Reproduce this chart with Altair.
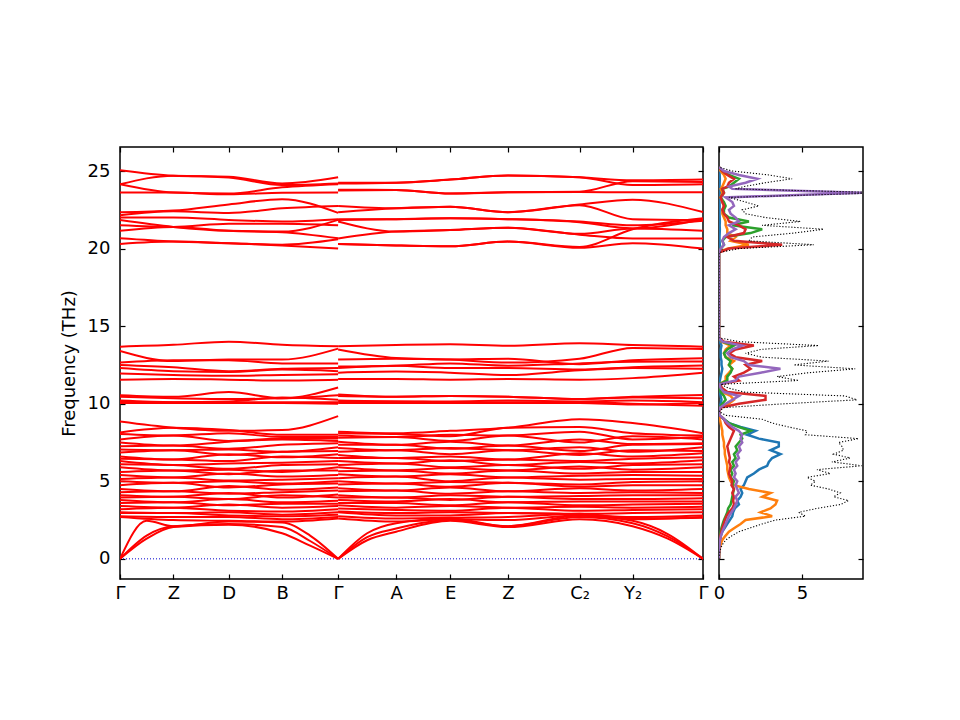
import altair as alt
import pandas as pd

# ---------------- k-path (cumulative distance) ----------------
K_TICKS = [0.0, 53.3, 108.7, 162.0, 218.0, 276.0, 330.0, 387.7, 459.3, 512.3, 582.7]
K_LABELS = ["Γ", "Z", "D", "B", "Γ", "A", "E", "Z", "C₂", "Y₂", "Γ"]
K_SEG1 = [0.0, 53.3, 108.7, 162.0, 218.0]                        # Γ Z D B Γ
K_SEG2 = [218.0, 276.0, 330.0, 387.7, 459.3, 512.3, 582.7]       # Γ A E Z C2 Y2 Γ
K_AC1 = [0.0, 26.6, 53.3, 108.7, 162.0, 190.0, 218.0]
K_AC2 = [218.0, 247.0, 276.0, 330.0, 387.7, 459.3, 512.3, 547.5, 582.7]

# ---------------- band frequencies (THz) ----------------
HIGH_S1 = [
    [25.05, 24.7, 24.63, 24.2, 24.6],
    [24.15, 24.7, 24.58, 24.1, 24.2],
    [24.15, 23.62, 23.55, 23.95, 24.15],
    [23.62, 23.62, 23.5, 23.6, 23.62],
    [22.34, 22.45, 22.85, 23.18, 22.3],
    [22.15, 22.4, 22.3, 22.6, 22.75],
    [22.0, 22.0, 21.85, 21.75, 21.9],
    [21.84, 21.4, 21.15, 21.1, 21.85],
    [21.5, 21.4, 21.6, 21.6, 21.5],
    [21.15, 21.4, 21.15, 21.05, 20.66],
    [20.66, 20.45, 20.35, 20.25, 20.6],
    [20.3, 20.45, 20.35, 20.2, 20.0],
]
HIGH_S2 = [
    [24.25, 24.25, 24.45, 24.72, 24.6, 24.4, 24.45],
    [24.2, 24.25, 24.45, 24.72, 24.6, 24.1, 24.15],
    [23.8, 23.78, 23.55, 23.63, 23.67, 24.35, 24.3],
    [23.75, 23.78, 23.55, 23.63, 23.65, 23.63, 23.63],
    [22.75, 22.6, 22.7, 22.35, 22.85, 23.15, 22.35],
    [22.35, 22.6, 22.7, 22.35, 22.8, 21.9, 21.85],
    [21.9, 21.9, 21.95, 21.9, 21.75, 21.5, 21.8],
    [21.85, 21.9, 21.95, 21.9, 21.7, 21.3, 21.9],
    [21.75, 21.1, 21.2, 21.35, 20.95, 21.3, 21.15],
    [20.65, 21.1, 21.2, 21.35, 20.9, 20.65, 20.65],
    [20.3, 20.2, 20.15, 20.45, 20.1, 21.25, 21.95],
    [20.3, 20.2, 20.15, 20.45, 20.05, 20.35, 20.0],
]
MID_S1 = [
    [13.68, 13.8, 14.0, 13.8, 13.7],
    [13.4, 12.75, 12.85, 12.85, 13.55],
    [12.65, 12.8, 12.8, 12.6, 12.6],
    [12.5, 12.35, 12.1, 12.25, 12.3],
    [12.3, 12.1, 12.05, 12.2, 12.1],
    [11.95, 11.85, 11.8, 11.85, 11.9],
    [11.55, 11.6, 11.55, 11.5, 11.55],
    [10.55, 10.45, 10.75, 10.35, 11.05],
    [10.45, 10.35, 10.3, 10.35, 10.55],
    [10.2, 10.1, 10.15, 10.4, 10.25],
    [10.15, 10.1, 10.1, 10.1, 10.1],
    [10.05, 10.05, 10.05, 10.05, 10.0],
]
MID_S2 = [
    [13.7, 13.79, 13.84, 13.74, 13.9, 13.79, 13.68],
    [13.5, 12.95, 12.85, 12.65, 12.9, 13.6, 13.53],
    [12.85, 12.9, 12.85, 12.9, 12.55, 12.8, 12.93],
    [12.4, 12.45, 12.6, 12.45, 12.6, 12.7, 12.72],
    [12.3, 12.45, 12.3, 12.3, 12.2, 12.35, 12.46],
    [12.0, 12.07, 12.0, 11.85, 12.15, 12.3, 12.25],
    [11.6, 11.6, 11.55, 11.6, 11.55, 11.65, 12.0],
    [10.6, 10.45, 10.5, 10.45, 10.3, 10.45, 10.57],
    [10.5, 10.45, 10.5, 10.45, 10.3, 10.4, 10.36],
    [10.2, 10.15, 10.15, 10.2, 10.15, 10.2, 10.1],
    [10.15, 10.15, 10.1, 10.1, 10.1, 10.0, 9.87],
    [10.05, 10.05, 10.05, 10.05, 10.05, 9.95, 10.05],
]
LOW_S1 = [
    [8.85, 8.45, 8.25, 8.3, 9.2],
    [8.15, 8.45, 8.3, 8.0, 8.0],
    [8.05, 7.95, 8.1, 7.85, 7.85],
    [7.7, 7.95, 7.6, 7.75, 7.75],
    [7.5, 7.3, 7.55, 7.7, 7.6],
    [7.25, 7.3, 7.1, 7.35, 7.45],
    [7.05, 7.0, 7.05, 6.9, 7.2],
    [6.85, 7.0, 6.7, 6.9, 6.95],
    [6.6, 6.4, 6.75, 6.55, 6.75],
    [6.45, 6.4, 6.3, 6.6, 6.5],
    [6.3, 6.05, 6.15, 6.2, 6.3],
    [6.1, 6.05, 5.8, 6.05, 6.1],
    [5.9, 5.7, 5.75, 5.6, 5.9],
    [5.6, 5.7, 5.45, 5.7, 5.7],
    [5.4, 5.25, 5.5, 5.3, 5.4],
    [5.15, 5.25, 5.05, 5.1, 5.2],
    [5.0, 4.9, 5.0, 4.85, 5.0],
    [4.75, 4.9, 4.6, 4.8, 4.85],
    [4.5, 4.35, 4.7, 4.45, 4.6],
    [4.3, 4.35, 4.2, 4.3, 4.4],
    [4.1, 4.0, 4.25, 3.95, 4.15],
    [3.95, 4.0, 3.85, 4.1, 3.95],
    [3.8, 3.65, 3.85, 3.65, 3.75],
    [3.6, 3.65, 3.45, 3.55, 3.55],
    [3.4, 3.3, 3.5, 3.3, 3.4],
    [3.2, 3.3, 3.1, 3.05, 3.2],
    [3.0, 2.95, 3.0, 2.85, 3.0],
    [2.95, 2.95, 2.8, 2.75, 2.85],
    [2.75, 2.7, 2.7, 2.55, 2.7],
    [2.7, 2.5, 2.45, 2.4, 2.6],
]
LOW_S2 = [
    [8.2, 8.1, 8.25, 8.45, 9.0, 8.75, 8.1],
    [8.1, 8.05, 7.9, 8.45, 8.5, 8.1, 7.95],
    [7.95, 7.85, 8.0, 7.95, 8.2, 7.7, 7.85],
    [7.8, 7.85, 7.6, 7.95, 7.5, 7.9, 7.7],
    [7.55, 7.35, 7.55, 7.3, 7.7, 7.4, 7.45],
    [7.35, 7.35, 7.1, 7.3, 6.95, 7.35, 7.4],
    [7.15, 7.0, 7.15, 7.0, 7.2, 6.9, 7.2],
    [6.9, 7.0, 6.75, 7.0, 6.7, 7.0, 6.95],
    [6.7, 6.5, 6.6, 6.4, 6.8, 6.6, 6.8],
    [6.5, 6.5, 6.3, 6.4, 6.3, 6.45, 6.55],
    [6.3, 6.15, 6.35, 6.05, 6.25, 6.15, 6.35],
    [6.05, 6.15, 5.9, 6.05, 5.8, 6.05, 6.1],
    [5.9, 5.7, 5.85, 5.7, 5.95, 5.75, 5.9],
    [5.65, 5.7, 5.5, 5.7, 5.5, 5.6, 5.6],
    [5.45, 5.3, 5.45, 5.25, 5.35, 5.4, 5.35],
    [5.2, 5.3, 5.0, 5.25, 5.1, 5.15, 5.15],
    [5.0, 4.85, 4.95, 4.9, 4.8, 4.95, 5.0],
    [4.8, 4.85, 4.65, 4.9, 4.65, 4.75, 4.75],
    [4.55, 4.4, 4.6, 4.35, 4.55, 4.4, 4.5],
    [4.35, 4.4, 4.2, 4.35, 4.25, 4.3, 4.25],
    [4.1, 3.95, 4.1, 4.0, 4.05, 4.1, 4.1],
    [3.95, 3.95, 3.8, 4.0, 3.85, 3.85, 3.9],
    [3.8, 3.7, 3.85, 3.65, 3.7, 3.7, 3.7],
    [3.6, 3.6, 3.45, 3.65, 3.45, 3.5, 3.55],
    [3.45, 3.3, 3.4, 3.3, 3.35, 3.3, 3.35],
    [3.25, 3.15, 3.1, 3.3, 3.1, 3.15, 3.2],
    [3.05, 2.95, 3.0, 2.95, 2.9, 2.95, 3.0],
    [3.0, 2.8, 2.8, 2.95, 2.85, 2.7, 2.8],
    [2.75, 2.6, 2.65, 2.7, 2.9, 2.6, 2.65],
    [2.6, 2.4, 2.55, 2.5, 2.8, 2.55, 2.7],
]
AC_S1 = [
    [0.0, 1.3, 2.05, 2.2, 1.65, 0.85, 0.0],
    [0.0, 1.5, 2.1, 2.25, 2.05, 1.15, 0.0],
    [0.0, 2.45, 2.1, 2.4, 2.35, 1.5, 0.0],
]
AC_S2 = [
    [0.0, 1.2, 1.75, 2.45, 2.05, 2.55, 2.1, 1.3, 0.0],
    [0.0, 1.4, 1.95, 2.5, 2.1, 2.7, 2.3, 1.45, 0.0],
    [0.0, 1.65, 2.3, 2.6, 2.1, 2.8, 2.45, 1.6, 0.0],
]

# ---------------- DOS (states/THz) ----------------
DOS_FREQ = [0.0, 0.25, 0.5, 0.75, 1.0, 1.25, 1.5, 1.75, 2.0, 2.25, 2.5, 2.75, 3.0, 3.25, 3.5, 3.75,
            4.0, 4.25, 4.5, 4.75, 5.0, 5.25, 5.5, 5.75, 6.0, 6.25, 6.5, 6.75, 7.0, 7.25, 7.5, 7.75,
            8.0, 8.25, 8.5, 8.75, 9.0, 9.25, 9.5,
            9.75, 10.0, 10.25, 10.5, 10.75, 11.0, 11.25, 11.5, 11.75, 12.0, 12.25, 12.5, 12.75,
            13.0, 13.25, 13.5, 13.75, 14.0, 14.25,
            19.75, 20.0, 20.25, 20.5, 20.75, 21.0, 21.25, 21.5, 21.75, 22.0, 22.25, 22.5, 22.75,
            23.0, 23.3, 23.6, 23.85, 24.0, 24.25, 24.5, 24.75, 25.0, 25.25]
DOS_TOTAL = [0, 0.02, 0.06, 0.13, 0.25, 0.45, 0.8, 1.2, 1.9, 2.6, 3.4, 5.2, 4.8, 5.9, 7.3, 7.8,
             6.9, 7.3, 6.6, 5.5, 5.8, 5.3, 6.7, 5.9, 8.6, 6.8, 7.9, 6.9, 7.5, 7.4, 7.2, 8.4,
             5.2, 5.3, 4.2, 3.2, 2.6, 0.4, 0,
             0.3, 4.0, 8.3, 7.6, 1.5, 0.6, 0.1, 4.8, 3.5, 5.4, 8.2, 4.5, 6.6, 2.6, 1.6, 2.5, 6.0, 1.2, 0,
             0, 1.2, 5.7, 1.8, 2.0, 4.5, 6.3, 2.6, 4.9, 2.8, 1.6, 1.4, 2.4, 1.6, 0.6, 10.0, 1.0,
             1.5, 2.8, 4.4, 3.0, 0.8, 0]
DOS_P1 = [0, 0, 0.01, 0.02, 0.04, 0.07, 0.12, 0.2, 0.35, 0.5, 0.65, 0.8, 0.85, 0.95, 1.2, 1.1,
          1.3, 1.4, 1.3, 1.5, 1.6, 1.7, 2.1, 2.4, 2.9, 3.0, 3.2, 3.7, 3.1, 3.6, 3.6, 2.4,
          1.7, 2.2, 1.3, 0.6, 0.3, 0.05, 0,
          0, 0.1, 0.15, 0.1, 0.05, 0.02, 0, 0.05, 0.1, 0.15, 0.2, 0.15, 0.15, 0.1, 0.1, 0.1, 0.15, 0.05, 0,
          0, 0.02, 0.05, 0.03, 0.03, 0.04, 0.05, 0.04, 0.05, 0.04, 0.03, 0.03, 0.04, 0.03, 0.02, 0.05,
          0.03, 0.03, 0.04, 0.05, 0.04, 0.02, 0]
DOS_P2 = [0, 0.01, 0.03, 0.06, 0.12, 0.22, 0.4, 0.6, 0.95, 1.3, 1.6, 3.2, 2.5, 3.1, 3.4, 3.5,
          2.6, 3.1, 1.8, 0.9, 0.7, 0.6, 0.55, 0.5, 0.5, 0.45, 0.4, 0.35, 0.35, 0.3, 0.3, 0.25,
          0.2, 0.2, 0.15, 0.1, 0.05, 0.02, 0,
          0.05, 0.6, 0.9, 0.7, 0.2, 0.1, 0.02, 0.4, 0.4, 0.6, 0.8, 0.6, 0.9, 0.4, 0.3, 0.4, 0.7, 0.15, 0,
          0, 0.5, 1.8, 0.7, 1.0, 0.5, 0.5, 0.4, 0.4, 0.3, 0.2, 0.2, 0.3, 0.2, 0.1, 0.2, 0.1,
          0.2, 0.3, 0.4, 0.3, 0.1, 0]
DOS_P3 = [0, 0, 0.01, 0.01, 0.02, 0.04, 0.06, 0.1, 0.15, 0.22, 0.3, 0.4, 0.5, 0.55, 0.7, 0.75,
          0.8, 0.85, 0.9, 0.8, 0.9, 0.7, 0.8, 0.7, 0.9, 0.8, 1.0, 0.9, 1.1, 1.0, 1.2, 1.4,
          1.3, 1.9, 1.2, 0.6, 0.3, 0.05, 0,
          0.02, 0.2, 0.4, 0.3, 0.1, 0.05, 0.02, 0.5, 0.5, 0.7, 0.8, 0.6, 0.7, 0.4, 0.3, 0.5, 0.9, 0.2, 0,
          0, 0.1, 0.3, 0.2, 0.4, 1.9, 2.6, 0.8, 1.8, 0.6, 0.3, 0.3, 0.4, 0.3, 0.1, 0.3, 0.2,
          0.6, 0.9, 1.2, 0.6, 0.2, 0]
DOS_P4 = [0, 0, 0.01, 0.02, 0.03, 0.05, 0.09, 0.14, 0.2, 0.28, 0.35, 0.45, 0.6, 0.8, 0.9, 0.85,
          0.9, 0.8, 0.9, 0.75, 0.8, 0.7, 0.6, 0.65, 0.7, 0.6, 0.65, 0.6, 0.55, 0.5, 0.6, 0.7,
          0.8, 0.9, 0.6, 0.4, 0.3, 0.05, 0,
          0.1, 1.2, 2.8, 2.8, 0.5, 0.2, 0.05, 1.2, 0.9, 1.5, 1.9, 1.6, 2.6, 1.0, 0.6, 1.0, 2.1, 0.3, 0,
          0, 0.6, 3.8, 0.9, 0.5, 1.5, 1.6, 1.2, 0.6, 0.5, 0.3, 0.2, 0.3, 0.2, 0.1, 0.3, 0.2,
          0.5, 0.6, 0.9, 0.5, 0.2, 0]
DOS_P5 = [0, 0, 0.01, 0.02, 0.04, 0.07, 0.12, 0.2, 0.3, 0.4, 0.5, 0.6, 0.75, 0.9, 1.0, 1.1,
          1.0, 1.2, 1.1, 1.0, 1.1, 0.9, 1.0, 0.9, 1.1, 1.0, 1.2, 1.1, 1.3, 1.2, 1.4, 1.3,
          1.4, 1.2, 0.8, 0.5, 0.3, 0.05, 0,
          0.05, 0.4, 0.8, 1.2, 0.3, 0.1, 0.03, 1.0, 1.2, 2.5, 3.7, 1.8, 1.5, 0.7, 0.5, 0.8, 1.4, 0.2, 0,
          0, 0.1, 0.3, 0.2, 0.3, 0.6, 1.0, 0.6, 1.2, 1.0, 0.7, 0.6, 0.9, 0.8, 0.4, 8.6, 0.8,
          0.6, 1.6, 2.3, 1.2, 0.3, 0]
PDOS_COLORS = ["#1f77b4", "#ff7f0e", "#2ca02c", "#d62728", "#9467bd"]

# ---------------- build tables ----------------
rows = []
def add(name, ks, vals):
    for k, v in zip(ks, vals):
        rows.append({"key": name, "k": k, "f": v})

for i, (a, b) in enumerate(zip(HIGH_S1, HIGH_S2)):
    add(f"h{i}a", K_SEG1, a); add(f"h{i}b", K_SEG2, b)
for i, (a, b) in enumerate(zip(MID_S1, MID_S2)):
    add(f"m{i}a", K_SEG1, a); add(f"m{i}b", K_SEG2, b)
for i, (a, b) in enumerate(zip(LOW_S1, LOW_S2)):
    add(f"l{i}a", K_SEG1, a); add(f"l{i}b", K_SEG2, b)
for i, (a, b) in enumerate(zip(AC_S1, AC_S2)):
    add(f"a{i}a", K_AC1, a); add(f"a{i}b", K_AC2, b)
band_df = pd.DataFrame(rows)
zero_df = pd.DataFrame({"k": [K_TICKS[0], K_TICKS[-1]], "f": [0.0, 0.0]})

pd_rows = []
for name, arr in zip(["p1", "p2", "p3", "p4", "p5"], [DOS_P1, DOS_P2, DOS_P3, DOS_P4, DOS_P5]):
    for fr, v in zip(DOS_FREQ, arr):
        pd_rows.append({"series": name, "freq": fr, "dos": v})
pdos_df = pd.DataFrame(pd_rows)
tdos_df = pd.DataFrame({"freq": DOS_FREQ, "dos": DOS_TOTAL})

# ---------------- scales / axes ----------------
Y_DOMAIN = [-1.3, 26.55]
Y_TICKS = [0, 5, 10, 15, 20, 25]
FONT = "DejaVu Sans"
FS = 18

expr = "'" + K_LABELS[-1] + "'"
for i in reversed(range(len(K_TICKS) - 1)):
    mid = (K_TICKS[i] + K_TICKS[i + 1]) / 2
    expr = f"datum.value < {mid:.2f} ? '{K_LABELS[i]}' : ({expr})"

def ax(orient, values, labels=True, title=None, label_expr=None, pad=7):
    kw = dict(orient=orient, values=values, offset=-5, tickSize=5, domain=False, grid=False,
              labels=labels, labelFlush=False, labelOverlap=False, tickColor="black", tickWidth=1.2,
              labelFont=FONT, labelFontSize=FS, labelColor="black", labelPadding=pad)
    if title is not None:
        kw.update(title=title, titleFont=FONT, titleFontSize=FS, titleFontWeight="normal",
                  titleColor="black", titlePadding=9)
    else:
        kw.update(title=None)
    if label_expr is not None:
        kw.update(labelExpr=label_expr)
    return alt.Axis(**kw)

kx = alt.Scale(domain=[K_TICKS[0], K_TICKS[-1]], nice=False, zero=False)
fy = alt.Scale(domain=Y_DOMAIN, nice=False, zero=False)

zero_layer = alt.Chart(zero_df).mark_line(color="#0000cc", strokeWidth=1, strokeDash=[1, 2]).encode(
    x=alt.X("k:Q", scale=kx, axis=ax("top", K_TICKS, labels=False)),
    y=alt.Y("f:Q", scale=fy, axis=ax("right", Y_TICKS, labels=False)),
)
bands_layer = alt.Chart(band_df).mark_line(color="#ff0000", strokeWidth=2, interpolate="monotone", clip=True).encode(
    x=alt.X("k:Q", scale=kx, axis=ax("bottom", K_TICKS, label_expr=expr, pad=5)),
    y=alt.Y("f:Q", scale=fy, axis=ax("left", Y_TICKS, title="Frequency (THz)", pad=10)),
    detail="key:N",
)
left = alt.layer(zero_layer, bands_layer).resolve_axis(x="independent", y="independent").properties(
    width=583, height=432)

dx = alt.Scale(domain=[0, 8.67], nice=False, zero=False)
pdos_layer = alt.Chart(pdos_df).mark_line(strokeWidth=2.5, clip=True).encode(
    x=alt.X("dos:Q", scale=dx, axis=ax("bottom", [0, 5], pad=5)),
    y=alt.Y("freq:Q", scale=fy, axis=ax("left", Y_TICKS, labels=False)),
    color=alt.Color("series:N", scale=alt.Scale(domain=["p1", "p2", "p3", "p4", "p5"], range=PDOS_COLORS),
                    legend=None),
    order=alt.Order("freq:Q"),
)
tdos_layer = alt.Chart(tdos_df).mark_line(color="black", strokeWidth=1.1, strokeDash=[1.2, 1.8], clip=True).encode(
    x=alt.X("dos:Q", scale=dx, axis=ax("top", [0, 5], labels=False)),
    y=alt.Y("freq:Q", scale=fy, axis=ax("right", Y_TICKS, labels=False)),
    order=alt.Order("freq:Q"),
)
right = alt.layer(pdos_layer, tdos_layer).resolve_axis(x="independent", y="independent").properties(
    width=144, height=432)

chart = alt.hconcat(left, right, spacing=16, bounds="flush").properties(
    padding={"left": 51, "top": 137, "right": 5, "bottom": 5},
    background="white",
).configure_view(stroke="black", strokeWidth=1.5)

chart.save("out.html", embed_options={"renderer": "svg", "actions": False})
